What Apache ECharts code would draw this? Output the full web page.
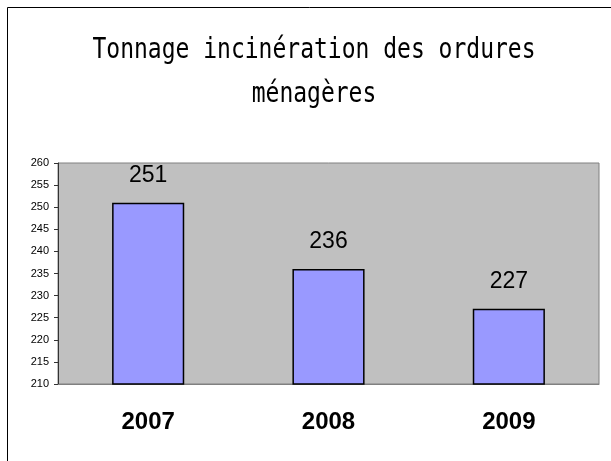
<!DOCTYPE html>
<html lang="fr">
<head>
    <meta charset="UTF-8"/>
    <title>Tonnage incinération</title>
    <style>
        * { margin: 0; padding: 0; }
        body { background: #fff; }
        #chart { width: 611px; height: 461px; }
    </style>
    <script src="https://cdn.jsdelivr.net/npm/echarts@6/dist/echarts.min.js"></script>
</head>
<body>
<div id="chart"></div>
<script>
    const years = ["2007", "2008", "2009"];
    const tonnage = [251, 236, 227];
    const titleLines = ["Tonnage incinération des ordures", "ménagères"];

    const myChart = echarts.init(document.getElementById("chart"));

    // titre sur deux lignes, police étroite et haute
    const titleStyle = {
        font: "23px 'DejaVu Sans Mono'",
        fill: "#000",
        align: "center",
        verticalAlign: "middle"
    };

    const option = {
        animation: false,
        backgroundColor: "#fff",
        graphic: [
            {
                type: "rect",
                shape: { x: 7.5, y: 7.5, width: 700, height: 600 },
                style: { fill: "none", stroke: "#000", lineWidth: 1 },
                silent: true
            },
            {
                type: "text",
                x: 314,
                y: 51,
                scaleY: 1.2,
                style: Object.assign({ text: titleLines[0] }, titleStyle)
            },
            {
                type: "text",
                x: 314,
                y: 95,
                scaleY: 1.2,
                style: Object.assign({ text: titleLines[1] }, titleStyle)
            }
        ],
        grid: {
            left: 58,
            right: 12,
            top: 163,
            bottom: 77,
            show: true,
            backgroundColor: "#C0C0C0",
            borderColor: "#808080",
            borderWidth: 1
        },
        xAxis: {
            type: "category",
            data: years,
            axisLine: { show: true, lineStyle: { color: "#808080" } },
            axisTick: { show: false },
            axisLabel: {
                margin: 26,
                fontFamily: "Liberation Sans, Arial",
                fontWeight: "bold",
                fontSize: 24,
                color: "#000"
            }
        },
        yAxis: {
            type: "value",
            min: 210,
            max: 260,
            interval: 5,
            splitLine: { show: false },
            axisLine: { show: true, lineStyle: { color: "#333" } },
            axisTick: { show: true, length: 4, lineStyle: { color: "#333" } },
            axisLabel: {
                margin: 9,
                fontFamily: "Liberation Sans, Arial",
                fontSize: 11,
                color: "#000"
            }
        },
        series: [
            {
                type: "bar",
                data: tonnage,
                barWidth: "40%",
                itemStyle: {
                    color: "#9999FF",
                    borderColor: "#000",
                    borderWidth: 1.5
                },
                label: {
                    show: true,
                    position: "top",
                    distance: 16,
                    fontFamily: "Liberation Sans, Arial",
                    fontSize: 23,
                    color: "#000"
                }
            }
        ]
    };
    myChart.setOption(option);
</script>
</body>
</html>
